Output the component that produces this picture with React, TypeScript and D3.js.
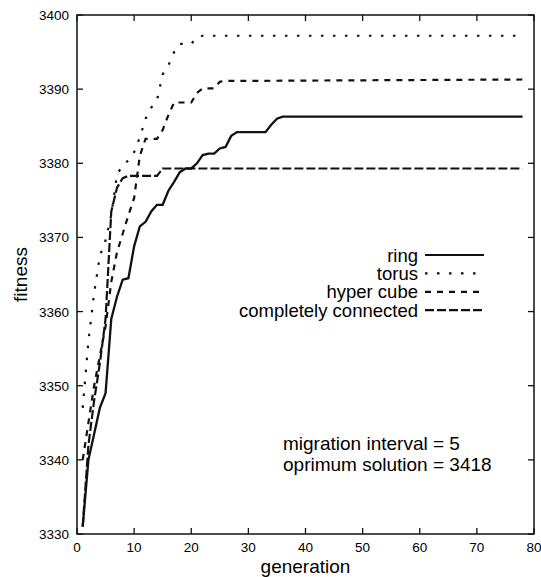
import React, { useEffect, useRef } from 'react';
import * as d3 from 'd3';

// breakpoints: [generation, fitness]
const ringGen = [1, 2, 3, 4, 5, 6, 7, 8, 9, 10, 11, 12, 13, 14, 15, 16, 17, 18, 19, 20, 21, 22, 23, 24, 25, 26, 27, 28, 33, 34, 35, 36, 78];
const ringFit = [3331, 3340, 3343.5, 3347, 3349, 3359, 3362, 3364.3, 3364.5, 3368.8, 3371.5, 3372.1, 3373.5, 3374.4, 3374.4, 3376.3, 3377.5, 3378.8, 3379.3, 3379.3, 3380, 3381.1, 3381.3, 3381.3, 3382, 3382.2, 3383.7, 3384.2, 3384.2, 3385.2, 3386, 3386.3, 3386.3];

const torusGen = [1, 2, 3, 4, 5, 6, 7, 8, 9, 10, 11, 12, 13, 14, 15, 16, 17, 18, 19, 20, 21, 22, 78];
const torusFit = [3347, 3356, 3362.5, 3367.5, 3369.6, 3373, 3378.5, 3379.7, 3380.4, 3381.5, 3383.5, 3386, 3387.5, 3388.5, 3392, 3393.2, 3395, 3396.1, 3396.1, 3396.1, 3397, 3397.2, 3397.2];

const cubeGen = [1, 2, 3, 4, 5, 6, 7, 8, 9, 10, 11, 12, 14, 15, 16, 17, 20, 21, 22, 24, 25, 26, 78];
const cubeFit = [3340, 3345, 3350, 3354, 3358, 3364, 3368, 3370.5, 3373, 3375.3, 3381, 3383.3, 3383.3, 3384.5, 3386.5, 3388.2, 3388.2, 3389.5, 3390.1, 3390.1, 3391, 3391.1, 3391.3];

const fullGen = [1, 2, 3, 4, 5, 6, 7, 8, 9, 14, 15, 78];
const fullFit = [3331, 3342, 3348, 3353, 3359, 3373.5, 3376.7, 3378, 3378.3, 3378.3, 3379.3, 3379.3];

const seriesNames = ['ring', 'torus', 'hyper cube', 'completely connected'];
const seriesDash = ['none', '2.5 9.5', '6 6', '9 3'];

const xTicks = [0, 10, 20, 30, 40, 50, 60, 70, 80];
const yTicks = [3330, 3340, 3350, 3360, 3370, 3380, 3390, 3400];

const notes = ['migration interval = 5', 'oprimum solution = 3418'];

const FONT = '"Liberation Sans", Arial, Helvetica, sans-serif';

const App = () => {
  const ref = useRef<SVGSVGElement>(null);

  useEffect(() => {
    if (!ref.current) return;
    const svg = d3.select(ref.current);
    svg.selectAll('*').remove();

    const left = 77, right = 534, top = 15, bottom = 534;
    const x = d3.scaleLinear().domain([0, 80]).range([left, right]);
    const y = d3.scaleLinear().domain([3330, 3400]).range([bottom, top]);

    const series = [
      { g: ringGen, f: ringFit },
      { g: torusGen, f: torusFit },
      { g: cubeGen, f: cubeFit },
      { g: fullGen, f: fullFit },
    ];

    const line = d3
      .line<[number, number]>()
      .x((d) => x(d[0]))
      .y((d) => y(d[1]));

    // frame
    svg
      .append('rect')
      .attr('x', left)
      .attr('y', top)
      .attr('width', right - left)
      .attr('height', bottom - top)
      .attr('fill', 'none')
      .attr('stroke', '#111')
      .attr('stroke-width', 1.5);

    const tk = 6;
    const ticks = svg.append('g').attr('stroke', '#111').attr('stroke-width', 1.3);
    xTicks.forEach((t) => {
      ticks.append('line').attr('x1', x(t)).attr('x2', x(t)).attr('y1', bottom).attr('y2', bottom - tk);
      ticks.append('line').attr('x1', x(t)).attr('x2', x(t)).attr('y1', top).attr('y2', top + tk);
    });
    yTicks.forEach((t) => {
      ticks.append('line').attr('x1', left).attr('x2', left + tk).attr('y1', y(t)).attr('y2', y(t));
      ticks.append('line').attr('x1', right).attr('x2', right - tk).attr('y1', y(t)).attr('y2', y(t));
    });

    svg
      .append('g')
      .selectAll('text')
      .data(xTicks)
      .join('text')
      .attr('x', (d) => x(d))
      .attr('y', 552)
      .attr('text-anchor', 'middle')
      .attr('font-size', 13.5)
      .attr('font-family', FONT)
      .text((d) => d);

    svg
      .append('g')
      .selectAll('text')
      .data(yTicks)
      .join('text')
      .attr('x', 69)
      .attr('y', (d) => y(d) + 5)
      .attr('text-anchor', 'end')
      .attr('font-size', 13.5)
      .attr('font-family', FONT)
      .text((d) => d);

    svg
      .append('text')
      .attr('x', (left + right) / 2)
      .attr('y', 573)
      .attr('text-anchor', 'middle')
      .attr('font-size', 19)
      .attr('font-family', FONT)
      .text('generation');

    svg
      .append('text')
      .attr('transform', `translate(27,${(top + bottom) / 2}) rotate(-90)`)
      .attr('text-anchor', 'middle')
      .attr('font-size', 19)
      .attr('font-family', FONT)
      .text('fitness');

    // curves
    series.forEach((s, i) => {
      const pts = s.g.map((g, j) => [g, s.f[j]] as [number, number]);
      svg
        .append('path')
        .attr('d', line(pts))
        .attr('fill', 'none')
        .attr('stroke', '#111')
        .attr('stroke-width', i === 0 ? 2.3 : 2.2)
        .attr('stroke-dasharray', seriesDash[i]);
    });

    // legend
    const legend = svg.append('g');
    seriesNames.forEach((name, i) => {
      const ly = 255 + i * 18.4;
      legend
        .append('text')
        .attr('x', 418)
        .attr('y', ly + 6.5)
        .attr('text-anchor', 'end')
        .attr('font-size', 18.5)
        .attr('font-family', FONT)
        .text(name);
      legend
        .append('line')
        .attr('x1', 425)
        .attr('x2', 484)
        .attr('y1', ly)
        .attr('y2', ly)
        .attr('stroke', '#111')
        .attr('stroke-width', 2.2)
        .attr('stroke-dasharray', seriesDash[i]);
    });

    notes.forEach((n, i) => {
      svg
        .append('text')
        .attr('x', 283)
        .attr('y', 450 + i * 21)
        .attr('font-size', 19)
        .attr('font-family', FONT)
        .text(n);
    });
  }, []);

  return (
    <svg
      ref={ref}
      width={541}
      height={577}
      style={{ position: 'absolute', left: 0, top: 0, background: '#fff' }}
    />
  );
};

export default App;
